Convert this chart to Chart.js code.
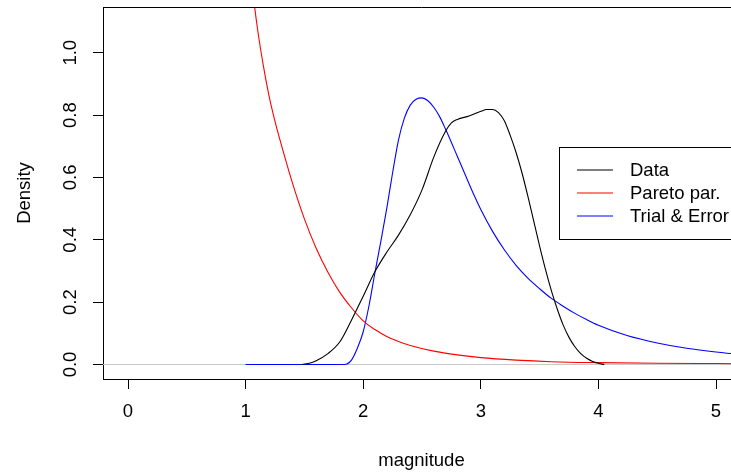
<!DOCTYPE html>
<html><head><meta charset="utf-8">
<script src="https://cdn.jsdelivr.net/npm/chart.js@4.4.0/dist/chart.umd.min.js"></script>
<style>
html,body{margin:0;padding:0;overflow:hidden;background:#fff;width:731px;height:475px}
#wrap{position:absolute;left:0;top:0;width:800px;height:475px}
</style>
</head><body><div id="wrap"><canvas id="c" width="800" height="475"></canvas></div>
<script>
// ---- data ----
const dataX = [1.48,1.55,1.6,1.7,1.8,1.9,2.0,2.1,2.2,2.3,2.4,2.5,2.6,2.7,2.75,2.8,2.9,3.0,3.05,3.1,3.15,3.2,3.25,3.3,3.35,3.4,3.45,3.5,3.55,3.6,3.65,3.7,3.75,3.8,3.85,3.9,3.95,4.0,4.05];
const dataY = [0.0,0.005,0.012,0.035,0.072,0.142,0.219,0.298,0.36,0.415,0.48,0.56,0.665,0.748,0.775,0.786,0.797,0.812,0.818,0.818,0.808,0.782,0.735,0.68,0.615,0.54,0.46,0.38,0.305,0.237,0.178,0.127,0.087,0.057,0.035,0.02,0.01,0.004,0.0];

const paretoX = [1.0,1.05,1.1,1.15,1.2,1.25,1.3,1.4,1.5,1.6,1.7,1.8,1.9,2.0,2.1,2.2,2.3,2.4,2.6,2.8,3.0,3.3,3.6,4.0,4.5,5.0,5.5];
const paretoY = [1.40,1.23,1.08,0.96,0.86,0.78,0.71,0.58,0.467,0.373,0.296,0.232,0.182,0.14,0.112,0.09,0.074,0.061,0.043,0.031,0.022,0.014,0.009,0.006,0.004,0.003,0.002];

const trialX = [1.0,1.3,1.6,1.84,1.9,1.95,2.0,2.05,2.1,2.15,2.2,2.25,2.3,2.35,2.4,2.45,2.5,2.55,2.6,2.65,2.7,2.75,2.8,2.85,2.9,2.95,3.0,3.1,3.2,3.3,3.4,3.5,3.6,3.7,3.8,3.9,4.0,4.25,4.5,4.75,5.0,5.25,5.5];
const trialY = [0,0,0,0,0.014,0.052,0.105,0.19,0.295,0.395,0.50,0.615,0.72,0.79,0.832,0.851,0.855,0.846,0.825,0.795,0.755,0.712,0.668,0.624,0.58,0.537,0.497,0.427,0.368,0.318,0.277,0.243,0.212,0.187,0.164,0.144,0.126,0.092,0.069,0.052,0.040,0.031,0.024];

const xTickLabels = ['0','1','2','3','4','5'];
const yTickLabels = ['0.0','0.2','0.4','0.6','0.8','1.0'];
const seriesNames = ['Data','Pareto par.','Trial & Error'];
const xLimits = [-0.2126, 5.204];
const yLimits = [-0.0465, 1.1466];
const baseline = [0, 0];

// ---- styles ----
const seriesColors = ['#000000','#ff0000','#0000ff'];
const FONT = '"Liberation Sans", Arial, sans-serif';
const FS = 18.5;

const pts = (xs, ys) => xs.map((x, i) => ({x: x, y: ys[i]}));

const rPlot = {
  id: 'rPlot',
  afterDraw(chart) {
    const {ctx, chartArea: a, scales: {y}} = chart;
    ctx.save();
    // top and right frame
    ctx.strokeStyle = '#000'; ctx.lineWidth = 1;
    ctx.beginPath();
    ctx.moveTo(a.left, Math.round(a.top) + 0.5);
    ctx.lineTo(a.right + 0.5, Math.round(a.top) + 0.5);
    ctx.lineTo(a.right + 0.5, a.bottom);
    ctx.stroke();
    // rotated y tick labels
    ctx.fillStyle = '#000';
    ctx.font = FS + 'px ' + FONT;
    ctx.textAlign = 'center'; ctx.textBaseline = 'middle';
    yTickLabels.forEach(l => {
      const py = y.getPixelForValue(parseFloat(l));
      ctx.save(); ctx.translate(71, py); ctx.rotate(-Math.PI / 2);
      ctx.fillText(l, 0, 0); ctx.restore();
    });
    // legend
    const lx = 559, ly = 147, lh = 92;
    ctx.fillStyle = '#fff';
    ctx.fillRect(lx, ly, a.right - lx, lh);
    ctx.strokeStyle = '#000';
    ctx.strokeRect(lx + 0.5, ly + 0.5, a.right - lx, lh);
    ctx.textAlign = 'left';
    seriesNames.forEach((n, i) => {
      const yy = 170 + i * 23;
      ctx.strokeStyle = seriesColors[i]; ctx.lineWidth = 1.1;
      ctx.beginPath(); ctx.moveTo(577, yy); ctx.lineTo(613, yy); ctx.stroke();
      ctx.fillStyle = '#000';
      ctx.fillText(n, 630, yy + 1);
    });
    ctx.restore();
  }
};

const ds = (label, d, color) => ({
  label, data: d, borderColor: color, borderWidth: 1.1, pointRadius: 0,
  fill: false, cubicInterpolationMode: 'monotone', tension: 0.4
});

new Chart(document.getElementById('c'), {
  type: 'line',
  data: {
    datasets: [
      ds(seriesNames[0], pts(dataX, dataY), seriesColors[0]),
      ds(seriesNames[1], pts(paretoX, paretoY), seriesColors[1]),
      ds(seriesNames[2], pts(trialX, trialY), seriesColors[2]),
      {label: 'zero', data: pts(xLimits, baseline), borderColor: '#c8c8c8', borderWidth: 1.2, pointRadius: 0, tension: 0}
    ]
  },
  options: {
    responsive: false, animation: false, devicePixelRatio: 1,
    layout: {padding: {top: 7, right: 60, left: 0, bottom: 0}},
    plugins: {legend: {display: false}, tooltip: {enabled: false}},
    scales: {
      x: {
        type: 'linear', min: xLimits[0], max: xLimits[1],
        afterFit: s => { s.height = 96; },
        afterBuildTicks: s => { s.ticks = xTickLabels.map(v => ({value: parseFloat(v)})); },
        grid: {drawOnChartArea: false, drawTicks: true, tickLength: 10, color: '#000', tickColor: '#000'},
        border: {display: true, color: '#000', width: 1},
        ticks: {includeBounds: false, padding: 12, color: '#000', font: {family: FONT, size: FS},
                maxRotation: 0, callback: (v, i) => xTickLabels[i]},
        title: {display: true, text: 'magnitude', color: '#000', font: {family: FONT, size: FS}, padding: {top: 0, bottom: 3}}
      },
      y: {
        type: 'linear', min: yLimits[0], max: yLimits[1],
        afterFit: s => { s.width = 103; },
        afterBuildTicks: s => { s.ticks = yTickLabels.map(v => ({value: parseFloat(v)})); },
        grid: {drawOnChartArea: false, drawTicks: true, tickLength: 10, color: '#000', tickColor: '#000'},
        border: {display: true, color: '#000', width: 1},
        ticks: {display: false, includeBounds: false},
        title: {display: true, text: 'Density', color: '#000', font: {family: FONT, size: FS}, padding: {top: 14, bottom: 0}}
      }
    }
  },
  plugins: [rPlot]
});
</script>
</body></html>
